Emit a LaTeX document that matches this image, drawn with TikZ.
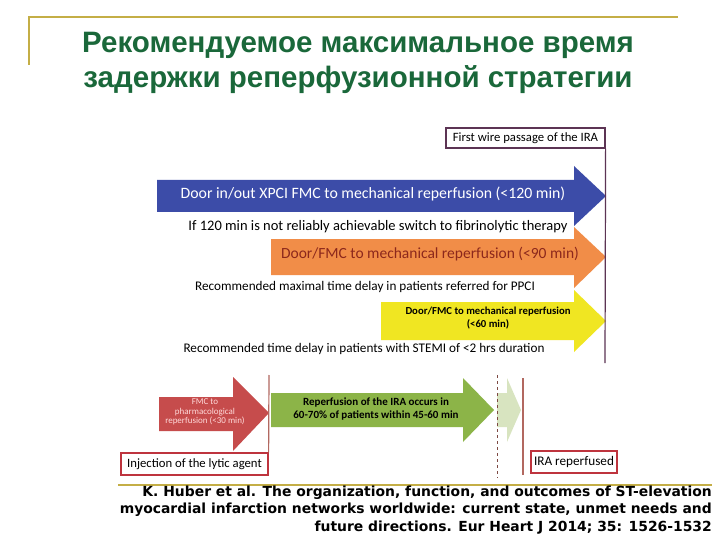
\documentclass[tikz,border=0pt]{standalone}
\usepackage{fontspec}
\setmainfont{Carlito}
\newfontfamily\titlefont{Liberation Sans}
\newfontfamily\citefont{DejaVu Sans}

\definecolor{framegold}{RGB}{196,174,70}
\definecolor{titlegreen}{RGB}{26,104,58}
\definecolor{pciblue}{RGB}{60,76,168}
\definecolor{pcorange}{RGB}{241,141,72}
\definecolor{pcyellow}{RGB}{240,230,34}
\definecolor{lyticred}{RGB}{198,76,76}
\definecolor{reperfgreen}{RGB}{140,180,72}
\definecolor{palegreen}{RGB}{216,228,192}
\definecolor{boxred}{RGB}{190,52,62}
\definecolor{linered}{RGB}{178,104,96}
\definecolor{wireplum}{RGB}{92,52,84}
\definecolor{orangetxt}{RGB}{140,40,28}

\tikzset{
  titletxt/.style={align=center, text=titlegreen, font=\titlefont\bfseries\fontsize{29.5}{35}\selectfont},
  arrowtxt/.style={align=center, inner sep=0pt},
  smalltxt/.style={inner sep=0pt, font=\fontsize{13.2}{15}\selectfont},
  markbox/.style={draw=boxred, line width=1.2pt, inner sep=0pt, font=\fontsize{12.7}{14}\selectfont},
  citetxt/.style={align=right, inner sep=0pt, font=\citefont\bfseries\fontsize{13.9}{17.5}\selectfont}
}

\begin{document}
\begin{tikzpicture}[x=1pt,y=-1pt]
  \useasboundingbox (0,0) rectangle (720,540);
  \fill[white] (0,0) rectangle (720,540);

  % Rahmen
  \draw[framegold,line width=1.5pt] (29,65) -- (29,17) -- (678,17);
  \draw[framegold,line width=1.5pt] (118,485) -- (712,485);

  % Titel
  \node[titletxt] (title) at (358,62.5) {Рекомендуемое максимальное время\\задержки реперфузионной стратегии};

  % PCI-Pfeile
  \fill[pciblue] (157,180) -- (574,180) -- (574,166) -- (606,196) -- (574,226) -- (574,212) -- (157,212) -- cycle;
  \fill[pcorange] (271,239) -- (574,239) -- (574,227) -- (606,257) -- (574,288) -- (574,275) -- (271,275) -- cycle;
  \fill[pcyellow] (381,302) -- (574,302) -- (574,290) -- (606,321) -- (574,352) -- (574,340) -- (381,340) -- cycle;

  \node[arrowtxt, text=white, font=\fontsize{15.8}{17}\selectfont] (bluetxt) at (373,194) {Door in/out XPCI FMC to mechanical reperfusion (<120 min)};
  \node[smalltxt, font=\fontsize{14.5}{15}\selectfont] (switchtxt) at (378,227) {If 120 min is not reliably achievable switch to fibrinolytic therapy};
  \node[arrowtxt, text=orangetxt, font=\fontsize{15.5}{17}\selectfont] (orangetxt) at (430,254) {Door/FMC to mechanical reperfusion (<90 min)};
  \node[smalltxt] (ppcitxt) at (365,287) {Recommended maximal time delay in patients referred for PPCI};
  \node[arrowtxt, font=\bfseries\fontsize{10.7}{13.5}\selectfont] (yellowtxt) at (488,318) {Door/FMC to mechanical reperfusion\\(<60 min)};
  \node[smalltxt] (stemitxt) at (364,349) {Recommended time delay in patients with STEMI of <2 hrs duration};

  % IRA-Markierung oben
  \node[draw=wireplum, line width=1.2pt, minimum width=159pt, minimum height=20pt, inner sep=0pt, font=\fontsize{12.7}{14}\selectfont] (wirebox) at (525.5,138) {First wire passage of the IRA};
  \coordinate (wireend) at (605,363);
  \draw[wireplum, line width=1.2pt] (wirebox.south east) -- (wireend);

  % Lyse-Pfeile
  \fill[lyticred] (159,397) -- (233,397) -- (233,377) -- (269,413) -- (233,451) -- (233,431) -- (159,431) -- cycle;
  \fill[reperfgreen] (271,393) -- (463,393) -- (463,378) -- (494,410) -- (463,442) -- (463,427) -- (271,427) -- cycle;
  \fill[palegreen] (497,393) -- (507,393) -- (507,378) -- (521,410) -- (507,442) -- (507,427) -- (497,427) -- cycle;

  \node[arrowtxt, text=red!15!white, font=\fontsize{9}{9.5}\selectfont] (redtxt) at (205,412) {FMC to\\pharmacological\\reperfusion (<30 min)};
  \node[arrowtxt, font=\bfseries\fontsize{11}{13}\selectfont] (greentxt) at (376,409) {Reperfusion of the IRA occurs in\\60-70\% of patients within 45-60 min};

  % Zeitpunkte
  \node[markbox, minimum width=147pt, minimum height=22pt] (injbox) at (194.5,464) {Injection of the lytic agent};
  \node[markbox, minimum width=86pt, minimum height=22pt, font=\fontsize{13.2}{14}\selectfont] (irabox) at (574,462) {IRA reperfused};
  \coordinate (lytictop) at (269,375);
  \coordinate (dashtop) at (497,375);
  \coordinate (dashbot) at (497,478);
  \coordinate (iratop) at (523,378);
  \coordinate (irabot) at (523,475);
  \draw[linered, line width=1.2pt] (lytictop) -- (injbox.north east);
  \draw[linered!70!black, line width=1pt, dashed] (dashtop) -- (dashbot);
  \draw[linered, line width=1.2pt] (iratop) -- (irabot);

  % Quelle
  \node[citetxt, anchor=east] (cite) at (712,510) {K. Huber et al. The organization, function, and outcomes of ST-elevation\\myocardial infarction networks worldwide: current state, unmet needs and\\future directions. Eur Heart J 2014; 35: 1526-1532};
\end{tikzpicture}
\end{document}
